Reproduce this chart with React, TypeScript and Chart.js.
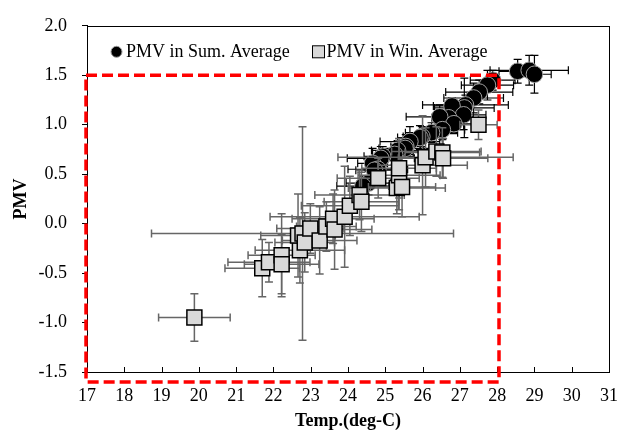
import React, { useEffect, useRef } from "react";
import { Chart, registerables } from "chart.js";

Chart.register(...registerables);

// Summer averages (Temp, PMV) with error half-widths
const sumX = [28.55, 28.86, 29.0, 27.88, 27.74, 27.52, 27.37, 27.15, 27.12, 26.79, 27.1, 26.7, 26.46, 26.84, 26.53, 26.24, 25.98, 25.93, 25.66, 25.55, 25.53, 25.33, 25.25, 24.93, 24.88, 24.66, 24.8, 24.71, 24.55, 24.4];
const sumY = [1.54, 1.55, 1.51, 1.45, 1.4, 1.33, 1.27, 1.2, 1.17, 1.19, 1.1, 1.07, 1.08, 1.01, 0.95, 0.92, 0.88, 0.87, 0.83, 0.78, 0.76, 0.74, 0.7, 0.68, 0.66, 0.61, 0.55, 0.54, 0.41, 0.38];
const sumXErr = [0.5, 1.05, 0.45, 0.6, 0.7, 0.9, 0.8, 1.15, 0.8, 0.5, 0.6, 0.45, 0.9, 0.5, 0.6, 0.7, 0.5, 0.6, 0.8, 0.4, 0.7, 0.7, 0.5, 0.5, 0.9, 0.4, 0.8, 0.5, 0.6, 0.7];
const sumYErr = [0.12, 0.15, 0.19, 0.1, 0.15, 0.12, 0.15, 0.1, 0.3, 0.08, 0.15, 0.15, 0.12, 0.1, 0.1, 0.1, 0.1, 0.12, 0.15, 0.12, 0.1, 0.1, 0.1, 0.1, 0.12, 0.15, 0.12, 0.1, 0.12, 0.1];

// Winter averages
const winX = [19.88, 21.7, 21.88, 22.22, 22.22, 22.71, 22.66, 22.78, 22.84, 22.99, 23.24, 23.42, 23.6, 23.64, 23.91, 24.05, 24.31, 24.36, 24.81, 25.31, 25.37, 25.37, 25.45, 26.0, 26.08, 26.37, 26.53, 26.55, 27.5];
const winY = [-0.95, -0.45, -0.39, -0.32, -0.41, -0.27, -0.12, -0.1, -0.19, -0.05, -0.17, -0.03, 0.05, -0.06, 0.07, 0.18, 0.29, 0.22, 0.46, 0.36, 0.49, 0.56, 0.37, 0.59, 0.67, 0.73, 0.72, 0.66, 1.0];
const winXErr = [0.96, 1.0, 1.1, 0.9, 1.0, 1.2, 1.0, 4.05, 0.8, 0.9, 1.0, 0.8, 1.1, 1.0, 2.0, 1.3, 1.2, 1.0, 1.1, 1.3, 1.1, 1.0, 0.9, 1.2, 2.35, 1.2, 1.0, 1.2, 0.5];
const winYErr = [0.24, 0.29, 0.2, 0.42, 0.3, 0.33, 0.42, 1.08, 0.3, 0.25, 0.34, 0.25, 0.25, 0.4, 0.51, 0.3, 0.25, 0.3, 0.2, 0.26, 0.35, 0.3, 0.3, 0.5, 0.3, 0.25, 0.25, 0.2, 0.15];

const X_MIN = 17, X_MAX = 31, X_STEP = 1;
const Y_MIN = -1.5, Y_MAX = 2.0, Y_STEP = 0.5;
// comfort-zone box (Temp range, PMV range)
const boxX = [17, 28.05];
const boxY = [-1.6, 1.5];

const seriesNames = ["PMV in Sum. Average", "PMV in Win. Average"];
const FONT = "'Liberation Serif', 'Times New Roman', serif";

export default function App() {
  const ref = useRef<HTMLCanvasElement | null>(null);

  useEffect(() => {
    const canvas = ref.current;
    if (!canvas) return;

    const errPlugin = {
      id: "errbars",
      beforeDatasetDraw(chart: any, args: any) {
        const ds = chart.data.datasets[args.index];
        const xs = chart.scales.x, ys = chart.scales.y;
        const ctx = chart.ctx;
        ctx.save();
        ctx.strokeStyle = ds.errColor;
        ctx.lineWidth = ds.errWidth;
        const cap = 4;
        ds.data.forEach((p: any, i: number) => {
          const ex = ds.xErr[i], ey = ds.yErr[i];
          const px = xs.getPixelForValue(p.x), py = ys.getPixelForValue(p.y);
          const x1 = xs.getPixelForValue(p.x - ex), x2 = xs.getPixelForValue(p.x + ex);
          const y1 = ys.getPixelForValue(p.y - ey), y2 = ys.getPixelForValue(p.y + ey);
          ctx.beginPath();
          ctx.moveTo(x1, py); ctx.lineTo(x2, py);
          ctx.moveTo(x1, py - cap); ctx.lineTo(x1, py + cap);
          ctx.moveTo(x2, py - cap); ctx.lineTo(x2, py + cap);
          ctx.moveTo(px, y1); ctx.lineTo(px, y2);
          ctx.moveTo(px - cap, y1); ctx.lineTo(px + cap, y1);
          ctx.moveTo(px - cap, y2); ctx.lineTo(px + cap, y2);
          ctx.stroke();
        });
        ctx.restore();
      },
    };

    const framePlugin = {
      id: "frame",
      afterDatasetsDraw(chart: any) {
        const { ctx, chartArea: a } = chart;
        const xs = chart.scales.x, ys = chart.scales.y;
        ctx.save();
        // box
        ctx.strokeStyle = "#000";
        ctx.lineWidth = 1;
        ctx.strokeRect(Math.round(a.left) + 0.5, Math.round(a.top) + 0.5, Math.round(a.right - a.left), Math.round(a.bottom - a.top));
        // inward x ticks
        ctx.beginPath();
        for (let v = X_MIN; v <= X_MAX; v += X_STEP) {
          const px = Math.round(xs.getPixelForValue(v)) + 0.5;
          ctx.moveTo(px, a.bottom);
          ctx.lineTo(px, a.bottom - 5);
        }
        ctx.stroke();
        // red dashed comfort box
        ctx.strokeStyle = "#ff0000";
        ctx.lineWidth = 3.5;
        ctx.setLineDash([11, 5]);
        const l = xs.getPixelForValue(boxX[0]) - 1, r = xs.getPixelForValue(boxX[1]);
        const t = ys.getPixelForValue(boxY[1]), b = ys.getPixelForValue(boxY[0]);
        ctx.strokeRect(l, t, r - l, b - t);
        ctx.setLineDash([]);
        // legend
        ctx.font = `18px ${FONT}`;
        ctx.fillStyle = "#000";
        ctx.textBaseline = "middle";
        const ly = a.top + 26;
        ctx.beginPath();
        ctx.arc(a.left + 29.5, ly, 5.5, 0, Math.PI * 2);
        ctx.fillStyle = "#000";
        ctx.fill();
        ctx.strokeStyle = "#999";
        ctx.lineWidth = 1;
        ctx.stroke();
        ctx.fillStyle = "#000";
        ctx.fillText(seriesNames[0], a.left + 39, ly);
        ctx.fillStyle = "#d9d9d9";
        ctx.fillRect(a.left + 225.5, ly - 6, 12, 12);
        ctx.strokeStyle = "#000";
        ctx.strokeRect(a.left + 225.5, ly - 6, 12, 12);
        ctx.fillStyle = "#000";
        ctx.fillText(seriesNames[1], a.left + 239.5, ly);
        ctx.restore();
      },
    };

    const chart = new Chart(canvas, {
      type: "scatter",
      data: {
        datasets: [
          {
            label: seriesNames[0],
            data: sumX.map((x, i) => ({ x, y: sumY[i] })),
            pointStyle: "circle",
            pointRadius: 8.3,
            pointBackgroundColor: "#000",
            pointBorderColor: "#a0a0a0",
            pointBorderWidth: 1,
            order: 2,
            // @ts-ignore
            xErr: sumXErr, yErr: sumYErr, errColor: "#000", errWidth: 1.2,
          } as any,
          {
            label: seriesNames[1],
            data: winX.map((x, i) => ({ x, y: winY[i] })),
            pointStyle: "rect",
            pointRadius: 10.6,
            pointBackgroundColor: "#d9d9d9",
            pointBorderColor: "#000",
            pointBorderWidth: 1.5,
            order: 1,
            // @ts-ignore
            xErr: winXErr, yErr: winYErr, errColor: "#666", errWidth: 1.5,
          } as any,
        ],
      },
      options: {
        animation: false,
        responsive: false,
        maintainAspectRatio: false,
        layout: { padding: { top: 20, right: 18, left: 0, bottom: 0 } },
        plugins: { legend: { display: false }, tooltip: { enabled: false } },
        scales: {
          x: {
            type: "linear",
            min: X_MIN,
            max: X_MAX,
            grid: { display: false, drawTicks: false },
            border: { display: false },
            ticks: { stepSize: X_STEP, color: "#000", padding: 13, maxRotation: 0, font: { family: FONT, size: 18 } },
            title: { display: true, text: "Temp.(deg-C)", color: "#000", font: { family: FONT, size: 18, weight: "bold" }, padding: { top: 0, bottom: 0 } },
            afterFit: (s: any) => { s.height = 60; },
          },
          y: {
            type: "linear",
            min: Y_MIN,
            max: Y_MAX,
            grid: { display: true, drawOnChartArea: false, drawTicks: true, tickLength: 5, color: "#000" },
            border: { display: true, color: "#000" },
            ticks: { stepSize: Y_STEP, color: "#000", padding: 15, font: { family: FONT, size: 18 }, callback: (v: any) => Number(v).toFixed(1) },
            title: { display: true, text: "PMV", color: "#000", font: { family: FONT, size: 18, weight: "bold" }, padding: { top: 11, bottom: 0 } },
            afterFit: (s: any) => { s.width = 87; },
          },
        },
      } as any,
      plugins: [errPlugin, framePlugin],
    });
    return () => chart.destroy();
  }, []);

  return (
    <div style={{ position: "absolute", left: 0, top: 0, width: 631, height: 432, background: "#fff" }}>
      <canvas ref={ref} width={631} height={432} style={{ width: 631, height: 432, display: "block" }} />
    </div>
  );
}
